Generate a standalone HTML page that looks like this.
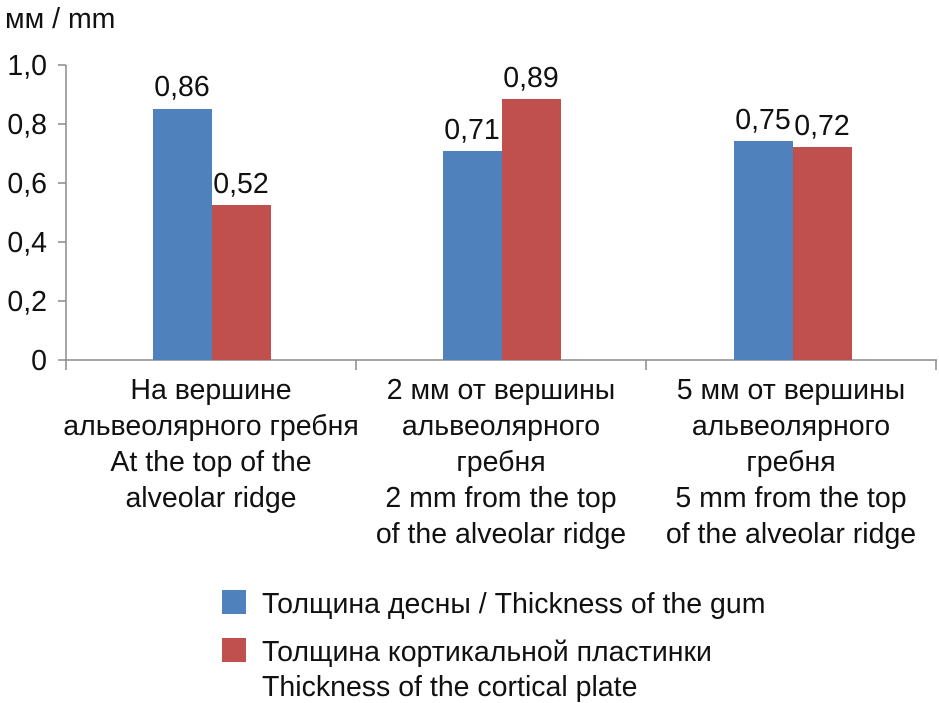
<!DOCTYPE html>
<html><head><meta charset="utf-8"><style>
html,body{margin:0;padding:0;background:#fff;}
svg{display:block;}
text{font-family:"Liberation Sans Narrow","Liberation Sans",sans-serif;font-size:28.5px;fill:#111;}
</style></head><body>
<svg width="939" height="703" viewBox="0 0 939 703">
<text x="5" y="28">мм / mm</text>
<g text-anchor="end">
<text x="47" y="75">1,0</text>
<text x="47" y="134">0,8</text>
<text x="47" y="193">0,6</text>
<text x="47" y="252">0,4</text>
<text x="47" y="311">0,2</text>
<text x="47" y="370">0</text>
</g>
<g stroke="#888" stroke-width="1.5">
<line x1="66" y1="65" x2="66" y2="360"/>
<line x1="58" y1="65" x2="66" y2="65"/>
<line x1="58" y1="124" x2="66" y2="124"/>
<line x1="58" y1="183" x2="66" y2="183"/>
<line x1="58" y1="242" x2="66" y2="242"/>
<line x1="58" y1="301" x2="66" y2="301"/>
<line x1="58" y1="360" x2="937" y2="360"/>
<line x1="66" y1="360" x2="66" y2="370"/>
<line x1="356" y1="360" x2="356" y2="370"/>
<line x1="646" y1="360" x2="646" y2="370"/>
<line x1="936" y1="360" x2="936" y2="370"/>
</g>
<rect x="153" y="109" width="59" height="251" fill="#4F81BD"/>
<rect x="212" y="205" width="59" height="155" fill="#C0504D"/>
<rect x="443" y="151" width="59" height="209" fill="#4F81BD"/>
<rect x="502" y="99" width="59" height="261" fill="#C0504D"/>
<rect x="734" y="141" width="59" height="219" fill="#4F81BD"/>
<rect x="793" y="147" width="59" height="213" fill="#C0504D"/>
<g text-anchor="middle">
<text x="182" y="96">0,86</text>
<text x="241" y="193">0,52</text>
<text x="472" y="139">0,71</text>
<text x="531" y="87">0,89</text>
<text x="763" y="129">0,75</text>
<text x="822" y="135">0,72</text>
<text x="211" y="399">На вершине</text>
<text x="211" y="435">альвеолярного гребня</text>
<text x="211" y="471">At the top of the</text>
<text x="211" y="507">alveolar ridge</text>
<text x="501" y="399">2 мм от вершины</text>
<text x="501" y="435">альвеолярного</text>
<text x="501" y="471">гребня</text>
<text x="501" y="507">2 mm from the top</text>
<text x="501" y="543">of the alveolar ridge</text>
<text x="791" y="399">5 мм от вершины</text>
<text x="791" y="435">альвеолярного</text>
<text x="791" y="471">гребня</text>
<text x="791" y="507">5 mm from the top</text>
<text x="791" y="543">of the alveolar ridge</text>
</g>
<rect x="222" y="590" width="24" height="24" fill="#4F81BD"/>
<rect x="222" y="638" width="24" height="24" fill="#C0504D"/>
<text x="262" y="613">Толщина десны / Thickness of the gum</text>
<text x="262" y="661">Толщина кортикальной пластинки</text>
<text x="262" y="696">Thickness of the cortical plate</text>
</svg>
</body></html>
